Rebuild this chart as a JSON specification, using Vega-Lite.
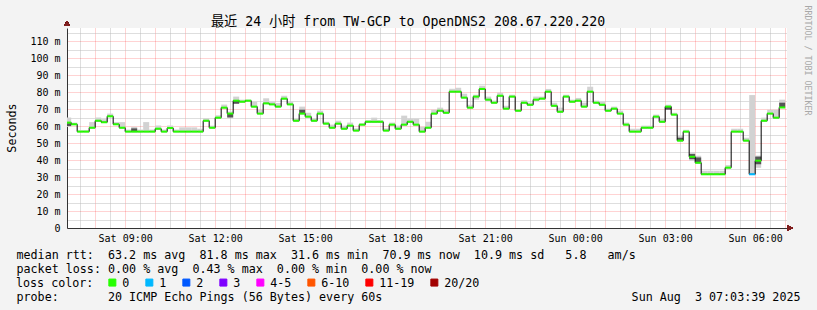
{
  "$schema": "https://vega.github.io/schema/vega-lite/v6.json",
  "width": 720,
  "height": 200,
  "autosize": {"type": "none"},
  "padding": {"left": 67, "top": 28, "right": 30, "bottom": 82},
  "background": "#f3f3f3",
  "config": {
    "font": "DejaVu Sans Mono",
    "view": {"fill": "#ffffff", "stroke": null},
    "axis": {"labelFont": "DejaVu Sans Mono", "titleFont": "DejaVu Sans Mono", "labelFontSize": 10, "titleFontSize": 11.7, "titleFontWeight": "normal", "labelColor": "#000000", "titleColor": "#000000"}
  },
  "title": {"text": "最近 24 小时 from TW-GCP to OpenDNS2 208.67.220.220", "font": "DejaVu Sans Mono, Noto Sans CJK SC", "fontSize": 13.2, "fontWeight": "normal", "color": "#000000", "anchor": "middle", "frame": "group", "dx": -19, "offset": -33.7, "baseline": "alphabetic"},
  "data": {"values": [
    {"t":"2025-08-02T07:00","e":"2025-08-02T07:12","v":62.0,"lo":59.5,"hi":65.0,"dlo":60.0,"dhi":61.6,"loss":"0"},
    {"t":"2025-08-02T07:12","e":"2025-08-02T07:24","v":61.0,"lo":60.5,"hi":62.0,"loss":"0"},
    {"t":"2025-08-02T07:24","e":"2025-08-02T07:36","v":56.7,"lo":56.7,"hi":57.5,"loss":"0"},
    {"t":"2025-08-02T07:36","e":"2025-08-02T07:48","v":56.7,"lo":56.7,"hi":57.5,"loss":"0"},
    {"t":"2025-08-02T07:48","e":"2025-08-02T08:00","v":59.0,"lo":58.6,"hi":62.3,"loss":"0"},
    {"t":"2025-08-02T08:00","e":"2025-08-02T08:12","v":63.1,"lo":62.6,"hi":65.0,"loss":"0"},
    {"t":"2025-08-02T08:12","e":"2025-08-02T08:24","v":62.2,"lo":61.8,"hi":64.0,"loss":"0"},
    {"t":"2025-08-02T08:24","e":"2025-08-02T08:36","v":65.7,"lo":65.3,"hi":67.3,"loss":"0"},
    {"t":"2025-08-02T08:36","e":"2025-08-02T08:48","v":61.0,"lo":60.6,"hi":62.3,"loss":"0"},
    {"t":"2025-08-02T08:48","e":"2025-08-02T09:00","v":59.0,"lo":58.6,"hi":62.3,"loss":"0"},
    {"t":"2025-08-02T09:00","e":"2025-08-02T09:12","v":56.7,"lo":56.7,"hi":57.9,"loss":"0"},
    {"t":"2025-08-02T09:12","e":"2025-08-02T09:24","v":56.7,"lo":56.7,"hi":59.5,"dlo":56.7,"dhi":58.6,"loss":"0"},
    {"t":"2025-08-02T09:24","e":"2025-08-02T09:36","v":56.7,"lo":56.7,"hi":57.9,"loss":"0"},
    {"t":"2025-08-02T09:36","e":"2025-08-02T09:48","v":56.7,"lo":56.7,"hi":62.3,"loss":"0"},
    {"t":"2025-08-02T09:48","e":"2025-08-02T10:00","v":56.7,"lo":56.7,"hi":57.9,"loss":"0"},
    {"t":"2025-08-02T10:00","e":"2025-08-02T10:12","v":58.4,"lo":58.0,"hi":60.3,"loss":"0"},
    {"t":"2025-08-02T10:12","e":"2025-08-02T10:24","v":56.7,"lo":56.7,"hi":57.9,"loss":"0"},
    {"t":"2025-08-02T10:24","e":"2025-08-02T10:36","v":58.8,"lo":58.4,"hi":60.3,"loss":"0"},
    {"t":"2025-08-02T10:36","e":"2025-08-02T10:48","v":56.7,"lo":56.7,"hi":57.9,"loss":"0"},
    {"t":"2025-08-02T10:48","e":"2025-08-02T11:00","v":56.7,"lo":56.7,"hi":59.2,"loss":"0"},
    {"t":"2025-08-02T11:00","e":"2025-08-02T11:12","v":56.7,"lo":56.7,"hi":59.2,"loss":"0"},
    {"t":"2025-08-02T11:12","e":"2025-08-02T11:24","v":56.7,"lo":56.7,"hi":59.2,"loss":"0"},
    {"t":"2025-08-02T11:24","e":"2025-08-02T11:36","v":56.7,"lo":56.7,"hi":58.4,"loss":"0"},
    {"t":"2025-08-02T11:36","e":"2025-08-02T11:48","v":63.1,"lo":62.7,"hi":64.5,"loss":"0"},
    {"t":"2025-08-02T11:48","e":"2025-08-02T12:00","v":59.0,"lo":58.6,"hi":60.2,"loss":"0"},
    {"t":"2025-08-02T12:00","e":"2025-08-02T12:12","v":64.9,"lo":64.5,"hi":66.3,"loss":"0"},
    {"t":"2025-08-02T12:12","e":"2025-08-02T12:24","v":70.8,"lo":70.4,"hi":72.6,"loss":"0"},
    {"t":"2025-08-02T12:24","e":"2025-08-02T12:36","v":67.3,"lo":65.0,"hi":68.5,"dlo":65.0,"dhi":67.3,"loss":"0"},
    {"t":"2025-08-02T12:36","e":"2025-08-02T12:48","v":74.9,"lo":73.1,"hi":77.3,"dlo":73.1,"dhi":74.9,"loss":"0"},
    {"t":"2025-08-02T12:48","e":"2025-08-02T13:00","v":74.3,"lo":73.9,"hi":75.5,"loss":"0"},
    {"t":"2025-08-02T13:00","e":"2025-08-02T13:12","v":74.9,"lo":74.5,"hi":75.5,"loss":"0"},
    {"t":"2025-08-02T13:12","e":"2025-08-02T13:24","v":71.4,"lo":71.0,"hi":74.3,"loss":"0"},
    {"t":"2025-08-02T13:24","e":"2025-08-02T13:36","v":67.3,"lo":66.9,"hi":69.6,"loss":"0"},
    {"t":"2025-08-02T13:36","e":"2025-08-02T13:48","v":73.3,"lo":72.9,"hi":76.3,"loss":"0"},
    {"t":"2025-08-02T13:48","e":"2025-08-02T14:00","v":72.7,"lo":72.3,"hi":74.3,"loss":"0"},
    {"t":"2025-08-02T14:00","e":"2025-08-02T14:12","v":71.4,"lo":71.0,"hi":73.5,"loss":"0"},
    {"t":"2025-08-02T14:12","e":"2025-08-02T14:24","v":76.1,"lo":75.7,"hi":77.8,"loss":"0"},
    {"t":"2025-08-02T14:24","e":"2025-08-02T14:36","v":72.7,"lo":72.3,"hi":74.3,"loss":"0"},
    {"t":"2025-08-02T14:36","e":"2025-08-02T14:48","v":63.1,"lo":62.7,"hi":64.3,"loss":"0"},
    {"t":"2025-08-02T14:48","e":"2025-08-02T15:00","v":67.3,"lo":66.9,"hi":71.4,"dlo":67.3,"dhi":69.6,"loss":"0"},
    {"t":"2025-08-02T15:00","e":"2025-08-02T15:12","v":65.5,"lo":65.1,"hi":67.8,"loss":"0"},
    {"t":"2025-08-02T15:12","e":"2025-08-02T15:24","v":63.1,"lo":62.7,"hi":64.5,"loss":"0"},
    {"t":"2025-08-02T15:24","e":"2025-08-02T15:36","v":67.3,"lo":66.9,"hi":69.0,"loss":"0"},
    {"t":"2025-08-02T15:36","e":"2025-08-02T15:48","v":61.4,"lo":61.0,"hi":62.5,"loss":"0"},
    {"t":"2025-08-02T15:48","e":"2025-08-02T16:00","v":59.0,"lo":58.6,"hi":60.8,"loss":"0"},
    {"t":"2025-08-02T16:00","e":"2025-08-02T16:12","v":61.4,"lo":61.0,"hi":63.1,"loss":"0"},
    {"t":"2025-08-02T16:12","e":"2025-08-02T16:24","v":58.4,"lo":58.0,"hi":60.2,"loss":"0"},
    {"t":"2025-08-02T16:24","e":"2025-08-02T16:36","v":60.2,"lo":59.8,"hi":62.0,"loss":"0"},
    {"t":"2025-08-02T16:36","e":"2025-08-02T16:48","v":57.3,"lo":56.9,"hi":58.6,"loss":"0"},
    {"t":"2025-08-02T16:48","e":"2025-08-02T17:00","v":60.8,"lo":60.4,"hi":61.6,"loss":"0"},
    {"t":"2025-08-02T17:00","e":"2025-08-02T17:12","v":62.5,"lo":62.1,"hi":63.5,"loss":"0"},
    {"t":"2025-08-02T17:12","e":"2025-08-02T17:24","v":62.5,"lo":62.1,"hi":64.9,"loss":"0"},
    {"t":"2025-08-02T17:24","e":"2025-08-02T17:36","v":62.5,"lo":62.1,"hi":63.5,"loss":"0"},
    {"t":"2025-08-02T17:36","e":"2025-08-02T17:48","v":57.3,"lo":56.9,"hi":58.6,"loss":"0"},
    {"t":"2025-08-02T17:48","e":"2025-08-02T18:00","v":60.8,"lo":60.4,"hi":62.0,"loss":"0"},
    {"t":"2025-08-02T18:00","e":"2025-08-02T18:12","v":58.4,"lo":58.0,"hi":60.2,"loss":"0"},
    {"t":"2025-08-02T18:12","e":"2025-08-02T18:24","v":60.8,"lo":60.4,"hi":66.1,"loss":"0"},
    {"t":"2025-08-02T18:24","e":"2025-08-02T18:36","v":62.5,"lo":62.1,"hi":64.3,"loss":"0"},
    {"t":"2025-08-02T18:36","e":"2025-08-02T18:48","v":60.8,"lo":60.4,"hi":64.3,"loss":"0"},
    {"t":"2025-08-02T18:48","e":"2025-08-02T19:00","v":56.7,"lo":56.3,"hi":59.5,"loss":"0"},
    {"t":"2025-08-02T19:00","e":"2025-08-02T19:12","v":59.0,"lo":58.6,"hi":62.5,"loss":"0"},
    {"t":"2025-08-02T19:12","e":"2025-08-02T19:24","v":67.3,"lo":66.9,"hi":69.6,"loss":"0"},
    {"t":"2025-08-02T19:24","e":"2025-08-02T19:36","v":69.0,"lo":68.6,"hi":70.8,"loss":"0"},
    {"t":"2025-08-02T19:36","e":"2025-08-02T19:48","v":67.8,"lo":67.4,"hi":69.6,"loss":"0"},
    {"t":"2025-08-02T19:48","e":"2025-08-02T20:00","v":80.2,"lo":79.8,"hi":81.9,"loss":"0"},
    {"t":"2025-08-02T20:00","e":"2025-08-02T20:12","v":80.2,"lo":79.8,"hi":82.5,"loss":"0"},
    {"t":"2025-08-02T20:12","e":"2025-08-02T20:24","v":76.7,"lo":76.3,"hi":79.0,"loss":"0"},
    {"t":"2025-08-02T20:24","e":"2025-08-02T20:36","v":70.8,"lo":70.4,"hi":72.5,"loss":"0"},
    {"t":"2025-08-02T20:36","e":"2025-08-02T20:48","v":77.3,"lo":75.5,"hi":78.4,"loss":"0"},
    {"t":"2025-08-02T20:48","e":"2025-08-02T21:00","v":81.8,"lo":81.4,"hi":83.7,"loss":"0"},
    {"t":"2025-08-02T21:00","e":"2025-08-02T21:12","v":75.5,"lo":75.1,"hi":77.3,"loss":"0"},
    {"t":"2025-08-02T21:12","e":"2025-08-02T21:24","v":73.7,"lo":73.3,"hi":74.9,"loss":"0"},
    {"t":"2025-08-02T21:24","e":"2025-08-02T21:36","v":77.8,"lo":77.4,"hi":79.6,"loss":"0"},
    {"t":"2025-08-02T21:36","e":"2025-08-02T21:48","v":70.2,"lo":69.8,"hi":71.9,"loss":"0"},
    {"t":"2025-08-02T21:48","e":"2025-08-02T22:00","v":77.3,"lo":76.9,"hi":78.4,"loss":"0"},
    {"t":"2025-08-02T22:00","e":"2025-08-02T22:12","v":69.0,"lo":68.6,"hi":69.6,"loss":"0"},
    {"t":"2025-08-02T22:12","e":"2025-08-02T22:24","v":73.7,"lo":73.3,"hi":75.1,"loss":"0"},
    {"t":"2025-08-02T22:24","e":"2025-08-02T22:36","v":72.5,"lo":72.1,"hi":73.7,"loss":"0"},
    {"t":"2025-08-02T22:36","e":"2025-08-02T22:48","v":75.5,"lo":75.1,"hi":77.3,"loss":"0"},
    {"t":"2025-08-02T22:48","e":"2025-08-02T23:00","v":76.1,"lo":75.7,"hi":77.3,"loss":"0"},
    {"t":"2025-08-02T23:00","e":"2025-08-02T23:12","v":80.2,"lo":79.8,"hi":81.8,"loss":"0"},
    {"t":"2025-08-02T23:12","e":"2025-08-02T23:24","v":71.9,"lo":71.5,"hi":73.7,"loss":"0"},
    {"t":"2025-08-02T23:24","e":"2025-08-02T23:36","v":68.4,"lo":68.0,"hi":70.8,"loss":"0"},
    {"t":"2025-08-02T23:36","e":"2025-08-02T23:48","v":77.3,"lo":76.9,"hi":78.4,"loss":"0"},
    {"t":"2025-08-02T23:48","e":"2025-08-03T00:00","v":74.3,"lo":73.9,"hi":75.5,"loss":"0"},
    {"t":"2025-08-03T00:00","e":"2025-08-03T00:12","v":74.9,"lo":74.5,"hi":76.5,"loss":"0"},
    {"t":"2025-08-03T00:12","e":"2025-08-03T00:24","v":71.4,"lo":71.0,"hi":73.7,"loss":"0"},
    {"t":"2025-08-03T00:24","e":"2025-08-03T00:36","v":80.2,"lo":79.8,"hi":83.1,"loss":"0"},
    {"t":"2025-08-03T00:36","e":"2025-08-03T00:48","v":73.7,"lo":73.3,"hi":74.9,"loss":"0"},
    {"t":"2025-08-03T00:48","e":"2025-08-03T01:00","v":72.5,"lo":72.1,"hi":74.3,"loss":"0"},
    {"t":"2025-08-03T01:00","e":"2025-08-03T01:12","v":69.0,"lo":68.6,"hi":70.2,"loss":"0"},
    {"t":"2025-08-03T01:12","e":"2025-08-03T01:24","v":70.2,"lo":69.8,"hi":71.4,"loss":"0"},
    {"t":"2025-08-03T01:24","e":"2025-08-03T01:36","v":67.3,"lo":66.9,"hi":69.0,"loss":"0"},
    {"t":"2025-08-03T01:36","e":"2025-08-03T01:48","v":60.8,"lo":60.4,"hi":62.0,"loss":"0"},
    {"t":"2025-08-03T01:48","e":"2025-08-03T02:00","v":56.7,"lo":56.3,"hi":58.4,"loss":"0"},
    {"t":"2025-08-03T02:00","e":"2025-08-03T02:12","v":56.7,"lo":56.3,"hi":58.4,"loss":"0"},
    {"t":"2025-08-03T02:12","e":"2025-08-03T02:24","v":59.0,"lo":58.6,"hi":60.2,"loss":"0"},
    {"t":"2025-08-03T02:24","e":"2025-08-03T02:36","v":59.0,"lo":58.6,"hi":60.2,"loss":"0"},
    {"t":"2025-08-03T02:36","e":"2025-08-03T02:48","v":65.5,"lo":65.1,"hi":66.7,"loss":"0"},
    {"t":"2025-08-03T02:48","e":"2025-08-03T03:00","v":62.5,"lo":62.1,"hi":64.3,"loss":"0"},
    {"t":"2025-08-03T03:00","e":"2025-08-03T03:12","v":71.4,"lo":69.6,"hi":72.5,"dlo":69.6,"dhi":71.4,"loss":"0"},
    {"t":"2025-08-03T03:12","e":"2025-08-03T03:24","v":66.7,"lo":66.3,"hi":67.8,"loss":"0"},
    {"t":"2025-08-03T03:24","e":"2025-08-03T03:36","v":51.4,"lo":51.0,"hi":54.3,"dlo":51.4,"dhi":53.1,"loss":"0"},
    {"t":"2025-08-03T03:36","e":"2025-08-03T03:48","v":56.7,"lo":56.3,"hi":57.8,"loss":"0"},
    {"t":"2025-08-03T03:48","e":"2025-08-03T04:00","v":41.9,"lo":39.5,"hi":44.5,"dlo":40.5,"dhi":43.5,"loss":"0"},
    {"t":"2025-08-03T04:00","e":"2025-08-03T04:12","v":38.4,"lo":38.0,"hi":42.5,"dlo":38.4,"dhi":41.5,"loss":"0"},
    {"t":"2025-08-03T04:12","e":"2025-08-03T04:24","v":31.6,"lo":31.6,"hi":33.7,"loss":"0"},
    {"t":"2025-08-03T04:24","e":"2025-08-03T04:36","v":31.6,"lo":31.6,"hi":33.7,"loss":"0"},
    {"t":"2025-08-03T04:36","e":"2025-08-03T04:48","v":31.6,"lo":31.6,"hi":33.7,"loss":"0"},
    {"t":"2025-08-03T04:48","e":"2025-08-03T05:00","v":31.6,"lo":31.6,"hi":33.7,"loss":"0"},
    {"t":"2025-08-03T05:00","e":"2025-08-03T05:12","v":35.5,"lo":35.1,"hi":37.0,"loss":"0"},
    {"t":"2025-08-03T05:12","e":"2025-08-03T05:24","v":56.7,"lo":56.3,"hi":58.4,"loss":"0"},
    {"t":"2025-08-03T05:24","e":"2025-08-03T05:36","v":56.7,"lo":56.3,"hi":58.4,"loss":"0"},
    {"t":"2025-08-03T05:36","e":"2025-08-03T05:48","v":51.4,"lo":51.0,"hi":53.1,"loss":"0"},
    {"t":"2025-08-03T05:48","e":"2025-08-03T06:00","v":31.6,"lo":31.6,"hi":78.2,"loss":"1"},
    {"t":"2025-08-03T06:00","e":"2025-08-03T06:12","v":39.6,"lo":35.4,"hi":42.6,"dlo":37.5,"dhi":42.0,"loss":"0"},
    {"t":"2025-08-03T06:12","e":"2025-08-03T06:24","v":63.1,"lo":62.7,"hi":64.9,"loss":"0"},
    {"t":"2025-08-03T06:24","e":"2025-08-03T06:36","v":67.3,"lo":66.9,"hi":69.6,"loss":"0"},
    {"t":"2025-08-03T06:36","e":"2025-08-03T06:48","v":64.9,"lo":64.5,"hi":69.6,"loss":"0"},
    {"t":"2025-08-03T06:48","e":"2025-08-03T07:00","v":70.9,"lo":70.5,"hi":75.5,"dlo":70.9,"dhi":73.7,"loss":"0"}
  ]},
  "layer": [
    {
      "mark": {"type": "rect", "color": "#d2d2d2", "clip": true},
      "encoding": {
        "x": {"field": "t", "type": "temporal",
          "scale": {"domain": [{"year": 2025, "month": 8, "date": 2, "hours": 7, "minutes": 3, "seconds": 39}, {"year": 2025, "month": 8, "date": 3, "hours": 7, "minutes": 3, "seconds": 39}], "nice": false},
          "axis": {"orient": "bottom", "values": [
            {"year": 2025, "month": 8, "date": 2, "hours": 7, "minutes": 30}, {"year": 2025, "month": 8, "date": 2, "hours": 8, "minutes": 30},
            {"year": 2025, "month": 8, "date": 2, "hours": 9, "minutes": 30}, {"year": 2025, "month": 8, "date": 2, "hours": 10, "minutes": 30},
            {"year": 2025, "month": 8, "date": 2, "hours": 11, "minutes": 30}, {"year": 2025, "month": 8, "date": 2, "hours": 12, "minutes": 30},
            {"year": 2025, "month": 8, "date": 2, "hours": 13, "minutes": 30}, {"year": 2025, "month": 8, "date": 2, "hours": 14, "minutes": 30},
            {"year": 2025, "month": 8, "date": 2, "hours": 15, "minutes": 30}, {"year": 2025, "month": 8, "date": 2, "hours": 16, "minutes": 30},
            {"year": 2025, "month": 8, "date": 2, "hours": 17, "minutes": 30}, {"year": 2025, "month": 8, "date": 2, "hours": 18, "minutes": 30},
            {"year": 2025, "month": 8, "date": 2, "hours": 19, "minutes": 30}, {"year": 2025, "month": 8, "date": 2, "hours": 20, "minutes": 30},
            {"year": 2025, "month": 8, "date": 2, "hours": 21, "minutes": 30}, {"year": 2025, "month": 8, "date": 2, "hours": 22, "minutes": 30},
            {"year": 2025, "month": 8, "date": 2, "hours": 23, "minutes": 30}, {"year": 2025, "month": 8, "date": 3, "hours": 0, "minutes": 30},
            {"year": 2025, "month": 8, "date": 3, "hours": 1, "minutes": 30}, {"year": 2025, "month": 8, "date": 3, "hours": 2, "minutes": 30},
            {"year": 2025, "month": 8, "date": 3, "hours": 3, "minutes": 30}, {"year": 2025, "month": 8, "date": 3, "hours": 4, "minutes": 30},
            {"year": 2025, "month": 8, "date": 3, "hours": 5, "minutes": 30}, {"year": 2025, "month": 8, "date": 3, "hours": 6, "minutes": 30}],
            "grid": true, "gridColor": "#bdbdbd", "gridDash": [1, 1], "labels": false, "ticks": false, "domain": false, "title": null}},
        "x2": {"field": "e"},
        "y": {"field": "lo", "type": "quantitative", "scale": {"domain": [0, 117.65], "nice": false, "zero": false},
          "axis": {"orient": "left", "values": [5, 15, 25, 35, 45, 55, 65, 75, 85, 95, 105, 115], "grid": true, "gridColor": "#bdbdbd", "gridDash": [1, 1], "labels": false, "ticks": false, "domain": false, "title": null}},
        "y2": {"field": "hi"}
      }
    },
    {
      "mark": {"type": "rect", "color": "#555555", "clip": true},
      "encoding": {
        "x": {"field": "t", "type": "temporal",
          "axis": {"orient": "bottom", "labels": false, "ticks": false, "domain": false, "grid": false,
            "title": "probe:\u00a0\u00a0\u00a0\u00a0\u00a0\u00a0\u00a020\u00a0ICMP\u00a0Echo\u00a0Pings\u00a0(56\u00a0Bytes)\u00a0every\u00a060s",
            "titleX": -51, "titleY": 72, "titleAlign": "left", "titleBaseline": "alphabetic", "titleAngle": 0}},
        "x2": {"field": "e"},
        "y": {"field": "dlo", "type": "quantitative",
          "axis": {"orient": "right", "labels": false, "ticks": false, "domain": false, "grid": false,
            "title": "RRDTOOL / TOBI OETIKER", "titleAngle": 90, "titleX": 17.3, "titleY": -23, "titleAlign": "left", "titleBaseline": "alphabetic", "titleFontSize": 8.3, "titleColor": "#a8a8a8"}},
        "y2": {"field": "dhi"}
      }
    },
    {
      "mark": {"type": "line", "interpolate": "step-after", "color": "#000000", "strokeWidth": 1, "clip": true},
      "encoding": {
        "x": {"field": "t", "type": "temporal",
          "axis": {"orient": "bottom", "values": [
            {"year": 2025, "month": 8, "date": 2, "hours": 8}, {"year": 2025, "month": 8, "date": 2, "hours": 9},
            {"year": 2025, "month": 8, "date": 2, "hours": 10}, {"year": 2025, "month": 8, "date": 2, "hours": 11},
            {"year": 2025, "month": 8, "date": 2, "hours": 12}, {"year": 2025, "month": 8, "date": 2, "hours": 13},
            {"year": 2025, "month": 8, "date": 2, "hours": 14}, {"year": 2025, "month": 8, "date": 2, "hours": 15},
            {"year": 2025, "month": 8, "date": 2, "hours": 16}, {"year": 2025, "month": 8, "date": 2, "hours": 17},
            {"year": 2025, "month": 8, "date": 2, "hours": 18}, {"year": 2025, "month": 8, "date": 2, "hours": 19},
            {"year": 2025, "month": 8, "date": 2, "hours": 20}, {"year": 2025, "month": 8, "date": 2, "hours": 21},
            {"year": 2025, "month": 8, "date": 2, "hours": 22}, {"year": 2025, "month": 8, "date": 2, "hours": 23},
            {"year": 2025, "month": 8, "date": 3, "hours": 0}, {"year": 2025, "month": 8, "date": 3, "hours": 1},
            {"year": 2025, "month": 8, "date": 3, "hours": 2}, {"year": 2025, "month": 8, "date": 3, "hours": 3},
            {"year": 2025, "month": 8, "date": 3, "hours": 4}, {"year": 2025, "month": 8, "date": 3, "hours": 5},
            {"year": 2025, "month": 8, "date": 3, "hours": 6}, {"year": 2025, "month": 8, "date": 3, "hours": 7}],
            "labelExpr": "hours(datum.value) % 3 == 0 ? timeFormat(datum.value, '%a %H:%M') : ''",
            "labelOverlap": false, "labelFlush": false, "labelBound": false, "labelPadding": 5,
            "grid": true, "gridColor": "#ff0000", "gridOpacity": 0.35, "gridDash": [1, 1],
            "ticks": false, "tickSize": 0, "domain": true, "domainColor": "#333333",
            "title": ["median\u00a0rtt:\u00a0\u00a063.2\u00a0ms\u00a0avg\u00a0\u00a081.8\u00a0ms\u00a0max\u00a0\u00a031.6\u00a0ms\u00a0min\u00a0\u00a070.9\u00a0ms\u00a0now\u00a0\u00a010.9\u00a0ms\u00a0sd\u00a0\u00a0\u00a05.8\u00a0\u00a0\u00a0am/s", "packet\u00a0loss:\u00a00.00\u00a0%\u00a0avg\u00a0\u00a00.43\u00a0%\u00a0max\u00a0\u00a00.00\u00a0%\u00a0min\u00a0\u00a00.00\u00a0%\u00a0now"],
            "titleX": -51, "titleY": 30, "titleAlign": "left", "titleBaseline": "alphabetic", "titleLineHeight": 14, "titleAngle": 0}},
        "y": {"field": "v", "type": "quantitative",
          "axis": {"orient": "left", "values": [0, 10, 20, 30, 40, 50, 60, 70, 80, 90, 100, 110],
            "labelExpr": "datum.value == 0 ? '0\u00a0\u00a0' : datum.value + ' m'",
            "labelPadding": 7, "labelOverlap": false, "labelFlush": false,
            "grid": true, "gridColor": "#ff0000", "gridOpacity": 0.35, "gridDash": [1, 1],
            "ticks": false, "tickSize": 0, "domain": true, "domainColor": "#333333",
            "title": "Seconds", "titleAngle": 270, "titleX": -52, "titleY": 99.5, "titleAlign": "center", "titleBaseline": "alphabetic"}}
      }
    },
    {
      "mark": {"type": "rule", "strokeWidth": 2, "clip": true},
      "encoding": {
        "x": {"field": "t", "type": "temporal",
          "axis": {"orient": "bottom", "labels": false, "ticks": false, "domain": false, "grid": false,
            "title": "Sun\u00a0Aug\u00a0\u00a03\u00a007:03:39\u00a02025",
            "titleX": 733, "titleY": 72, "titleAlign": "right", "titleBaseline": "alphabetic", "titleAngle": 0}},
        "x2": {"field": "e"},
        "y": {"field": "v", "type": "quantitative", "axis": null},
        "color": {"field": "loss", "type": "nominal",
          "scale": {"domain": ["0", "1", "2", "3", "4-5", "6-10", "11-19", "20/20"], "range": ["#26ff00", "#00b8ff", "#0059ff", "#7e00ff", "#ff00ff", "#ff5500", "#ff0000", "#a10000"]},
          "legend": {"orient": "none", "legendX": -51, "legendY": 248.5, "direction": "horizontal",
            "title": "loss\u00a0color:", "titleOrient": "left", "titleFont": "DejaVu Sans Mono", "titleFontSize": 11.7, "titleFontWeight": "normal", "titleColor": "#000000", "titlePadding": 12.5, "titleAnchor": "middle", "titleBaseline": "middle",
            "labelFont": "DejaVu Sans Mono", "labelFontSize": 11.7, "labelColor": "#000000", "labelOffset": 4, "columnPadding": 14,
            "symbolType": "square", "symbolSize": 49, "symbolStrokeColor": "#000000", "symbolStrokeWidth": 1, "symbolOpacity": 1,
            "encode": {"symbols": {"update": {"fill": {"scale": "color", "field": "value"}, "stroke": {"value": "#000000"}, "strokeWidth": {"value": 1}, "opacity": {"value": 1}}}}}}
      }
    },
    {
      "mark": {"type": "point", "shape": "triangle-up", "filled": true, "color": "#7f1f1f", "size": 30, "opacity": 1, "clip": false},
      "encoding": {
        "x": {"datum": {"year": 2025, "month": 8, "date": 2, "hours": 7, "minutes": 3, "seconds": 39}, "type": "temporal", "axis": null},
        "y": {"datum": 120.3, "type": "quantitative", "axis": null}
      }
    },
    {
      "mark": {"type": "point", "shape": "triangle-right", "filled": true, "color": "#7f1f1f", "size": 30, "opacity": 1, "clip": false},
      "encoding": {
        "x": {"datum": {"year": 2025, "month": 8, "date": 3, "hours": 7, "minutes": 10}, "type": "temporal", "axis": null},
        "y": {"datum": 0, "type": "quantitative", "axis": null}
      }
    }
  ],
  "resolve": {"axis": {"x": "independent", "y": "independent"}}
}
